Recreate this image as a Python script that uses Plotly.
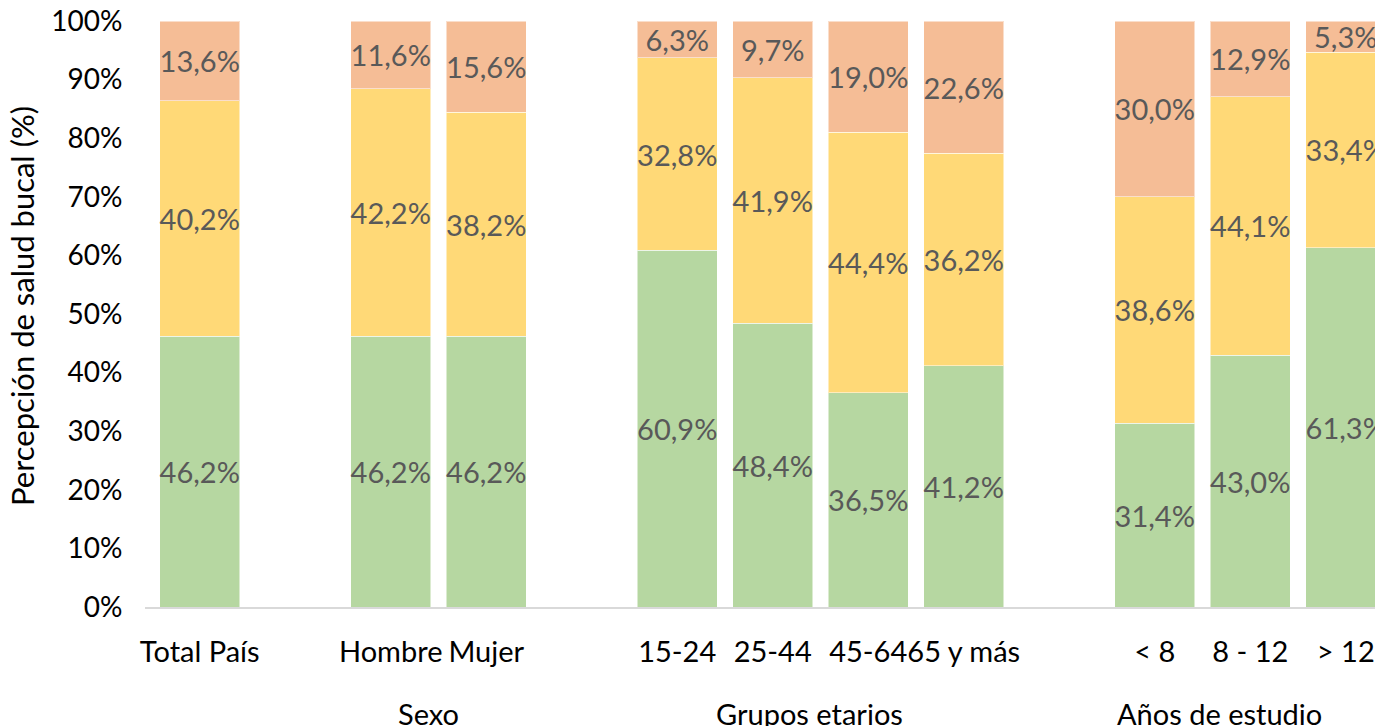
import plotly.graph_objects as go

# categories (blank ones are spacers between groups)
categories = ["Total País", " ", "Hombre", "Mujer", "  ",
              "15-24", "25-44", "45-64", "65 y más", "   ",
              "< 8", "8 - 12", "> 12"]
bar_cats = ["Total País", "Hombre", "Mujer", "15-24", "25-44", "45-64",
            "65 y más", "< 8", "8 - 12", "> 12"]

buena = [46.2, 46.2, 46.2, 60.9, 48.4, 36.5, 41.2, 31.4, 43.0, 61.3]
regular = [40.2, 42.2, 38.2, 32.8, 41.9, 44.4, 36.2, 38.6, 44.1, 33.4]
mala = [13.6, 11.6, 15.6, 6.3, 9.7, 19.0, 22.6, 30.0, 12.9, 5.3]

groups = ["Sexo", "Grupos etarios", "Años de estudio"]
group_x = [2.4, 6.39, 10.68]

series = [("Buena", buena, "#B6D7A1"),
          ("Regular", regular, "#FFD977"),
          ("Mala", mala, "#F5BD96")]

fig = go.Figure()
for name, vals, col in series:
    fig.add_trace(go.Bar(
        x=bar_cats, y=vals, name=name,
        marker=dict(color=col, line=dict(color="rgba(255,255,255,0.5)", width=1)),
        text=[f"{v:.1f}%".replace(".", ",") for v in vals],
        textposition="inside", insidetextanchor="middle", textangle=0,
        constraintext="none",
        textfont=dict(family="Lato", size=29, color="#595959"),
    ))

for g, gx in zip(groups, group_x):
    fig.add_annotation(x=gx, y=0, xref="x", yref="paper", text=g,
                       showarrow=False, yshift=-106, yanchor="middle",
                       font=dict(family="Lato", size=29, color="black"))

fig.add_annotation(x=0, xref="paper", xshift=-123, xanchor="center",
                   y=0.5, yref="paper", yshift=8, yanchor="middle",
                   text="Percepción de salud bucal (%)", textangle=-90,
                   showarrow=False, font=dict(family="Lato", size=31, color="black"))

# page body has an 8px margin, so offsets are reduced accordingly
fig.update_layout(
    barmode="stack", barnorm="percent", bargap=0.162,
    width=1383, height=726,
    margin=dict(l=137, r=8, t=13, b=127, autoexpand=False),
    plot_bgcolor="white", paper_bgcolor="white",
    showlegend=False,
    font=dict(family="Lato", size=28, color="black"),
)
fig.update_xaxes(type="category", categoryorder="array", categoryarray=categories,
                 range=[-0.573, 12.39], showline=True, linecolor="#D9D9D9",
                 linewidth=1.5, showgrid=False, ticks="outside", ticklen=18,
                 tickcolor="rgba(0,0,0,0)", tickfont=dict(size=29), tickangle=0,
                 automargin=False)
fig.update_yaxes(range=[0, 100], dtick=10, ticksuffix="%", showgrid=False,
                 zeroline=False, ticks="outside", ticklen=16,
                 tickcolor="rgba(0,0,0,0)", tickfont=dict(size=28),
                 ticklabeloverflow="allow", automargin=False)

fig.write_html("out.html")
